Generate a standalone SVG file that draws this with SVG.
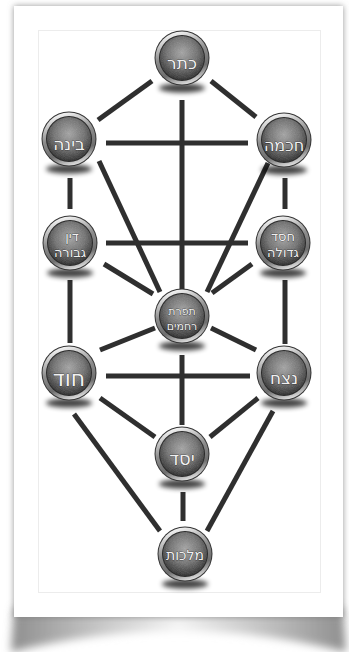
<svg xmlns="http://www.w3.org/2000/svg" xmlns:xlink="http://www.w3.org/1999/xlink" width="349" height="652" viewBox="0 0 349 652">
<defs>
<style>
.ln{stroke:#2f2f2f;stroke-width:5;fill:none;stroke-linecap:butt}
.lb{font-family:"DejaVu Sans","Liberation Sans",sans-serif;fill:#f0f0f0;text-anchor:middle;stroke:#1e1e1e;stroke-width:0.6;paint-order:stroke}
</style>
<linearGradient id="ring" x1="0.3" y1="0" x2="0.6" y2="1">
<stop offset="0" stop-color="#fbfbfb"/>
<stop offset="0.45" stop-color="#8c8c8c"/>
<stop offset="0.75" stop-color="#6e6e6e"/>
<stop offset="1" stop-color="#e2e2e2"/>
</linearGradient>
<radialGradient id="disc" cx="0.5" cy="0.38" r="0.62">
<stop offset="0" stop-color="#a4a4a4"/>
<stop offset="0.55" stop-color="#707070"/>
<stop offset="1" stop-color="#2a2a2a"/>
</radialGradient>
<linearGradient id="shade" x1="0" y1="0" x2="1" y2="0">
<stop offset="0" stop-color="#8e8e8e"/>
<stop offset="0.25" stop-color="#c4c4c4"/>
<stop offset="0.5" stop-color="#f4f4f4"/>
<stop offset="0.75" stop-color="#c4c4c4"/>
<stop offset="1" stop-color="#8e8e8e"/>
</linearGradient>
<filter id="blur3" x="-50%" y="-100%" width="200%" height="300%"><feGaussianBlur stdDeviation="2.6"/></filter>
<filter id="blur5" x="-10%" y="-50%" width="120%" height="200%"><feGaussianBlur stdDeviation="4"/></filter>
<filter id="paper" x="-5%" y="-5%" width="110%" height="110%"><feDropShadow dx="0" dy="0" stdDeviation="3" flood-color="#7a7a7a" flood-opacity="0.8"/></filter>
<filter id="grain" x="0" y="0" width="1" height="1">
<feTurbulence type="fractalNoise" baseFrequency="1.3" numOctaves="2" seed="3"/>
<feColorMatrix type="saturate" values="0"/>
<feComposite in2="SourceAlpha" operator="in"/>
</filter>
<g id="orb">
<ellipse cx="0" cy="30" rx="23" ry="4.5" fill="#000" opacity="0.75" filter="url(#blur3)"/>
<circle r="27.5" fill="#333"/>
<circle r="26.5" fill="url(#ring)"/>
<circle r="23" fill="#2a2a2a"/>
<circle r="22" fill="url(#disc)"/>
<circle r="22" fill="#000" filter="url(#grain)" opacity="0.22"/>
</g>
</defs>
<rect width="349" height="652" fill="#fff"/>
<g id="page">
<path d="M14,608 L343,608 L346,652 Q180,610 11,652 Z" fill="url(#shade)" filter="url(#blur5)"/>
<rect x="14" y="6" width="329" height="611" fill="#fff" filter="url(#paper)"/>
<rect x="38.5" y="30.5" width="282" height="562" fill="#fff" stroke="#ececec"/>
</g>
<g id="connectors">
<line class="ln" x1="152" y1="81" x2="98" y2="120"/>
<line class="ln" x1="211" y1="81" x2="256" y2="117"/>
<line class="ln" x1="182" y1="100" x2="182" y2="289"/>
<line class="ln" x1="106" y1="143" x2="248" y2="143"/>
<line class="ln" x1="70" y1="178" x2="70" y2="209"/>
<line class="ln" x1="285" y1="178" x2="285" y2="209"/>
<line class="ln" x1="99" y1="161" x2="160" y2="292"/>
<line class="ln" x1="268" y1="163" x2="207" y2="292"/>
<line class="ln" x1="106" y1="243" x2="248" y2="243"/>
<line class="ln" x1="104" y1="264" x2="153" y2="294"/>
<line class="ln" x1="252" y1="264" x2="212" y2="293"/>
<line class="ln" x1="70" y1="280" x2="70" y2="343"/>
<line class="ln" x1="285" y1="280" x2="285" y2="344"/>
<line class="ln" x1="100" y1="350" x2="155" y2="328"/>
<line class="ln" x1="256" y1="350" x2="211" y2="328"/>
<line class="ln" x1="106" y1="376" x2="250" y2="376"/>
<line class="ln" x1="182" y1="355" x2="182" y2="425"/>
<line class="ln" x1="100" y1="398" x2="155" y2="437"/>
<line class="ln" x1="258" y1="398" x2="210" y2="437"/>
<line class="ln" x1="74" y1="414" x2="160" y2="531"/>
<line class="ln" x1="273" y1="411" x2="207" y2="531"/>
<line class="ln" x1="183" y1="492" x2="183" y2="521"/>
</g>
<g id="keter"><use xlink:href="#orb" href="#orb" x="182" y="58"/><text class="lb" x="182" y="69" font-size="17">כתר</text></g>
<g id="binah"><use xlink:href="#orb" href="#orb" x="69" y="139"/><text class="lb" x="69" y="150" font-size="17">בינה</text></g>
<g id="chokhmah"><use xlink:href="#orb" href="#orb" x="284" y="140"/><text class="lb" x="284" y="151" font-size="16">חכמה</text></g>
<g id="gevurah"><use xlink:href="#orb" href="#orb" x="70" y="243"/><text class="lb" x="72" y="241" font-size="13">דין</text><text class="lb" x="70" y="257" font-size="13">גבורה</text></g>
<g id="chesed"><use xlink:href="#orb" href="#orb" x="283" y="243"/><text class="lb" x="283" y="241" font-size="13">חסד</text><text class="lb" x="283" y="257" font-size="13">גדולה</text></g>
<g id="tiferet"><use xlink:href="#orb" href="#orb" x="182" y="316"/><text class="lb" x="182" y="315" font-size="11">תפרת</text><text class="lb" x="182" y="330" font-size="11">רחמים</text></g>
<g id="hod"><use xlink:href="#orb" href="#orb" x="69" y="373"/><text class="lb" x="69" y="386" font-size="22">חוד</text></g>
<g id="netzach"><use xlink:href="#orb" href="#orb" x="284" y="373"/><text class="lb" x="284" y="384" font-size="17">נצח</text></g>
<g id="yesod"><use xlink:href="#orb" href="#orb" x="182" y="454"/><text class="lb" x="182" y="465" font-size="18">יסד</text></g>
<g id="malkhut"><use xlink:href="#orb" href="#orb" x="185" y="554"/><text class="lb" x="185" y="560" font-size="14">מלכות</text></g>
</svg>
